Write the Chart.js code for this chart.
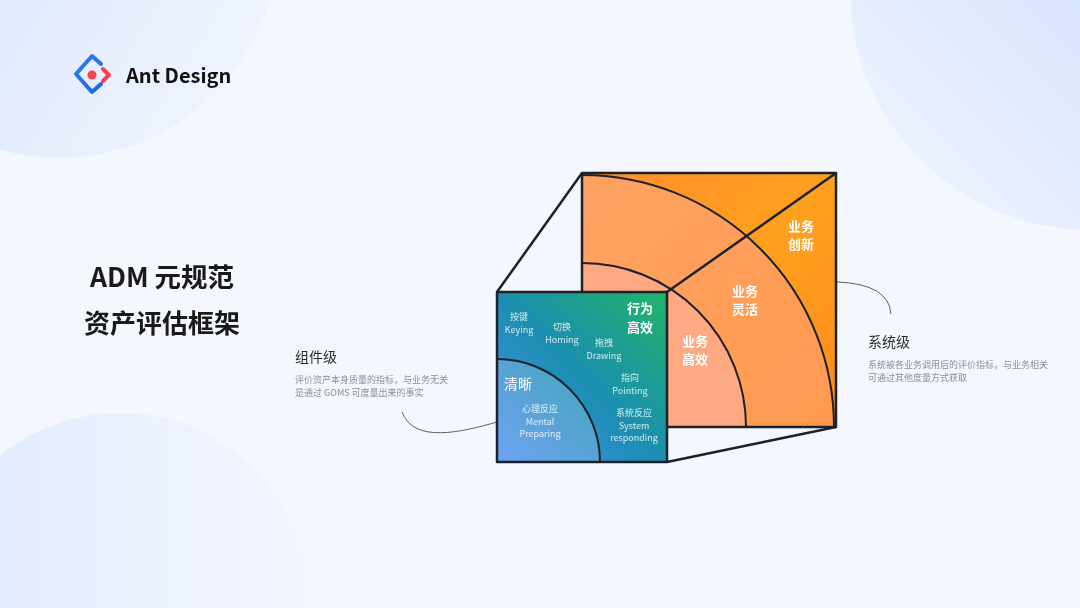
<!DOCTYPE html>
<html>
<head>
<meta charset="utf-8">
<script src="https://cdn.jsdelivr.net/npm/chart.js@4"></script>
<style>
  html, body { margin: 0; padding: 0; background: #f4f7fe; }
  #wrap { width: 1080px; height: 608px; }
</style>
</head>
<body>
<div id="wrap"><canvas id="myChart" width="1080" height="608"></canvas></div>
<script>
'use strict';

// text content of the slide
const brandName = 'Ant Design';
const titleLines = ['ADM 元规范', '资产评估框架'];
const componentTitle = '组件级';
const componentDesc = ['评价资产本身质量的指标，与业务无关', '是通过 GOMS 可度量出来的事实'];
const systemTitle = '系统级';
const systemDesc = ['系统被各业务调用后的评价指标，与业务相关', '可通过其他度量方式获取'];

// orange cube face: layers from the inside out
const businessLayers = [['业务', '高效'], ['业务', '灵活'], ['业务', '创新']];
// blue/green face
const behaviourLabel = ['行为', '高效'];
const clarityLabel = '清晰';
const gomsTerms = [
  ['按键', 'Keying'],
  ['切换', 'Homing'],
  ['拖拽', 'Drawing'],
  ['指向', 'Pointing'],
  ['系统反应', 'System', 'responding']
];
const mentalTerm = ['心理反应', 'Mental', 'Preparing'];

// layout (slide units, same as pixels)
const bigBox = { x: 582, y: 173, size: 254 };
const bandRadius = [164, 252];
const smallBox = { x: 497, y: 292, size: 170 };
const smallRadius = 103;
const gomsPos = [[519, 317], [562, 327], [604, 343], [630, 378], [634, 413]];
const layerPos = [[695, 341], [745, 291], [801, 226]];

const FONT = '"Noto Sans CJK SC", "Noto Sans", sans-serif';
const LINE = '#1d2129';

function drawSlide(chart) {
  const ctx = chart.ctx;
  const xs = chart.scales.x;
  const ys = chart.scales.y;
  const px = v => xs.getPixelForValue(v);
  const py = v => ys.getPixelForValue(v);
  const len = v => xs.getPixelForValue(v) - xs.getPixelForValue(0);

  function text(str, x, y, size, color, weight, align) {
    ctx.font = (weight || 'normal') + ' ' + size + 'px ' + FONT;
    ctx.fillStyle = color;
    ctx.textAlign = align || 'center';
    ctx.textBaseline = 'middle';
    ctx.fillText(str, px(x), py(y));
  }

  ctx.save();

  // background blobs
  ctx.fillStyle = '#f4f7fe';
  ctx.fillRect(0, 0, chart.width, chart.height);
  let g = ctx.createLinearGradient(px(0), py(0), px(260), py(160));
  g.addColorStop(0, '#e0eafd');
  g.addColorStop(1, '#f2f6fe');
  ctx.fillStyle = g;
  ctx.beginPath(); ctx.arc(px(60), py(-60), len(218), 0, Math.PI * 2); ctx.fill();
  g = ctx.createLinearGradient(px(1080), py(0), px(860), py(220));
  g.addColorStop(0, '#d8e5fe');
  g.addColorStop(1, '#f2f6fe');
  ctx.fillStyle = g;
  ctx.beginPath(); ctx.arc(px(1090), py(-10), len(240), 0, Math.PI * 2); ctx.fill();
  g = ctx.createLinearGradient(px(0), py(500), px(310), py(500));
  g.addColorStop(0, '#e3ecfe');
  g.addColorStop(1, '#f3f6fe');
  ctx.fillStyle = g;
  ctx.beginPath(); ctx.arc(px(120), py(603), len(190), 0, Math.PI * 2); ctx.fill();

  // logo
  ctx.lineCap = 'round';
  ctx.lineJoin = 'round';
  ctx.lineWidth = 4;
  g = ctx.createLinearGradient(px(76), py(56), px(104), py(92));
  g.addColorStop(0, '#2f7bf5');
  g.addColorStop(1, '#1766e8');
  ctx.strokeStyle = g;
  ctx.beginPath();
  ctx.moveTo(px(101), py(64));
  ctx.lineTo(px(92), py(56));
  ctx.lineTo(px(76), py(74));
  ctx.lineTo(px(92), py(92));
  ctx.lineTo(px(101), py(84));
  ctx.stroke();
  ctx.strokeStyle = '#f5434e';
  ctx.beginPath();
  ctx.moveTo(px(103), py(69));
  ctx.lineTo(px(109), py(75));
  ctx.lineTo(px(103), py(81));
  ctx.stroke();
  ctx.fillStyle = '#f5434e';
  ctx.beginPath(); ctx.arc(px(92), py(75), len(4.5), 0, Math.PI * 2); ctx.fill();
  text(brandName, 126, 75, 20, '#111', 'bold', 'left');

  // titles
  text(titleLines[0], 162, 277, 26.5, '#1a1a1a', 'bold');
  text(titleLines[1], 162, 323, 26, '#1a1a1a', 'bold');

  text(componentTitle, 295, 357, 14, '#2b2b2b', 'normal', 'left');
  componentDesc.forEach((s, i) => text(s, 295, 380 + i * 13, 9, '#8a8f99', 'normal', 'left'));
  text(systemTitle, 868, 342, 14, '#2b2b2b', 'normal', 'left');
  systemDesc.forEach((s, i) => text(s, 868, 365 + i * 13, 9, '#8a8f99', 'normal', 'left'));

  // connectors
  ctx.lineCap = 'butt';
  ctx.strokeStyle = '#5b5f66';
  ctx.lineWidth = 1;
  ctx.beginPath();
  ctx.moveTo(px(497), py(422));
  ctx.bezierCurveTo(px(462), py(432), px(414), py(444), px(402), py(412));
  ctx.stroke();
  ctx.beginPath();
  ctx.moveTo(px(837), py(282));
  ctx.quadraticCurveTo(px(889), py(284), px(891), py(314));
  ctx.stroke();

  // big orange face
  const bx = px(bigBox.x), by = py(bigBox.y), bs = len(bigBox.size);
  const cx = bx, cy = by + bs;
  ctx.save();
  ctx.beginPath(); ctx.rect(bx, by, bs, bs); ctx.clip();
  g = ctx.createLinearGradient(bx, by, bx + bs, by + bs);
  g.addColorStop(0, '#ff8c2e');
  g.addColorStop(0.5, '#ffa01e');
  g.addColorStop(1, '#ff8a1c');
  ctx.fillStyle = g;
  ctx.fillRect(bx, by, bs, bs);
  g = ctx.createLinearGradient(bx, by, bx + bs, by + bs);
  g.addColorStop(0, '#ffa262');
  g.addColorStop(1, '#ff9a50');
  ctx.fillStyle = g;
  ctx.beginPath(); ctx.moveTo(cx, cy); ctx.arc(cx, cy, len(bandRadius[1]), -Math.PI / 2, 0); ctx.closePath(); ctx.fill();
  ctx.fillStyle = '#ffa982';
  ctx.beginPath(); ctx.moveTo(cx, cy); ctx.arc(cx, cy, len(bandRadius[0]), -Math.PI / 2, 0); ctx.closePath(); ctx.fill();
  ctx.restore();

  ctx.strokeStyle = LINE;
  ctx.lineWidth = 2;
  bandRadius.forEach(r => {
    ctx.beginPath(); ctx.arc(cx, cy, len(r), -Math.PI / 2, 0); ctx.stroke();
  });
  ctx.lineWidth = 2.5;
  ctx.strokeRect(bx, by, bs, bs);

  // cube edges
  const sx = px(smallBox.x), sy = py(smallBox.y), ss = len(smallBox.size);
  ctx.lineWidth = 2.5;
  ctx.beginPath();
  ctx.moveTo(sx, sy); ctx.lineTo(bx, by);
  ctx.moveTo(sx + ss, sy); ctx.lineTo(bx + bs, by);
  ctx.moveTo(sx + ss, sy + ss); ctx.lineTo(bx + bs, by + bs);
  ctx.stroke();

  // small blue/green face
  g = ctx.createLinearGradient(sx, sy + ss, sx + ss, sy);
  g.addColorStop(0, '#4a8cf2');
  g.addColorStop(0.5, '#1a8fb0');
  g.addColorStop(1, '#20b466');
  ctx.fillStyle = g;
  ctx.fillRect(sx, sy, ss, ss);
  ctx.fillStyle = 'rgba(255,255,255,0.2)';
  ctx.beginPath(); ctx.moveTo(sx, sy + ss); ctx.arc(sx, sy + ss, len(smallRadius), -Math.PI / 2, 0); ctx.closePath(); ctx.fill();
  ctx.lineWidth = 2;
  ctx.beginPath(); ctx.arc(sx, sy + ss, len(smallRadius), -Math.PI / 2, 0); ctx.stroke();
  ctx.lineWidth = 2.5;
  ctx.strokeRect(sx, sy, ss, ss);

  // labels on the faces
  businessLayers.forEach((l, i) => {
    l.forEach((s, j) => text(s, layerPos[i][0], layerPos[i][1] + j * 18, 13, '#fff', 'bold'));
  });
  behaviourLabel.forEach((s, j) => text(s, 640, 308 + j * 19, 13, '#fff', 'bold'));
  text(clarityLabel, 518, 384, 14, '#fff', 'normal');
  gomsTerms.forEach((t, i) => {
    t.forEach((s, j) => text(s, gomsPos[i][0], gomsPos[i][1] + j * 12.5, 9, 'rgba(255,255,255,0.82)', 'normal'));
  });
  mentalTerm.forEach((s, j) => text(s, 540, 409 + j * 12.5, 9, 'rgba(255,255,255,0.82)', 'normal'));

  ctx.restore();
}

const slidePlugin = {
  id: 'slide',
  beforeDatasetsDraw(chart) { drawSlide(chart); }
};

const config = {
  type: 'scatter',
  data: { datasets: [{ data: [], pointRadius: 0 }] },
  options: {
    responsive: false,
    animation: false,
    events: [],
    layout: { padding: 0 },
    plugins: { legend: { display: false }, tooltip: { enabled: false } },
    scales: {
      x: { type: 'linear', min: 0, max: 1080, display: false },
      y: { type: 'linear', min: 0, max: 608, reverse: true, display: false }
    }
  },
  plugins: [slidePlugin]
};

let canvasChart = document.getElementById('myChart');
const myChart = new Chart(canvasChart, config);
</script>
</body>
</html>
